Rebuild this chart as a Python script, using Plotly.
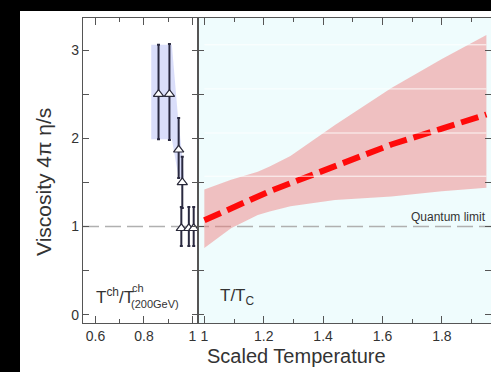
import plotly.graph_objects as go

# ---------------- data ----------------
# left panel: T^ch / T^ch(200GeV) points (triangles with error bars)
pts_x = [0.860, 0.905, 0.943, 0.958, 0.954, 0.985, 1.005]
pts_y = [2.50, 2.50, 1.87, 1.50, 0.98, 0.98, 0.98]
pts_hi = [3.06, 3.07, 2.23, 1.79, 1.22, 1.22, 1.22]
pts_lo = [1.99, 1.98, 1.55, 1.21, 0.78, 0.78, 0.78]

# left panel: blue systematic band
blue_x = [0.830, 0.915, 0.940, 0.958, 0.965]
blue_hi = [3.06, 3.06, 2.25, 1.80, 1.50]
blue_lo = [1.99, 1.99, 1.60, 1.52, 1.50]

# right panel: T/Tc band and central (dashed) curve
red_x = [1.00, 1.09, 1.18, 1.22, 1.29, 1.44, 1.63, 1.80, 1.95]
red_hi = [1.42, 1.53, 1.62, 1.68, 1.80, 2.15, 2.57, 2.90, 3.17]
red_lo = [0.755, 0.98, 1.13, 1.17, 1.23, 1.30, 1.34, 1.40, 1.44]
red_mid = [1.07, 1.21, 1.34, 1.40, 1.49, 1.68, 1.93, 2.11, 2.27]

quantum_limit = 1.0
hatch_lines = [1.57, 2.06, 2.56, 3.06]

x1_ticks = [0.6, 0.8, 1.0]
x1_labels = ["0.6", "0.8", "1"]
x2_ticks = [1.0, 1.2, 1.4, 1.6, 1.8]
x2_labels = ["1", "1.2", "1.4", "1.6", "1.8"]
y_ticks = [0, 1, 2, 3]
y_labels = ["0", "1", "2", "3"]

# ---------------- layout helpers ----------------
W, H = 491, 372
L, R, T, B = 83, 0, 18, 49
PW, PH = W - L - R, H - T - B
FONT = "Liberation Sans, Arial, Helvetica, sans-serif"
TXT = "#333333"
AX = "#555555"


def px(p):
    return (p - L) / PW


def py(p):
    return (H - B - p) / PH


split = px(198.3)

fig = go.Figure()

# blue band (left)
fig.add_trace(go.Scatter(
    x=blue_x + blue_x[::-1], y=blue_hi + blue_lo[::-1],
    fill="toself", fillcolor="rgba(150,160,240,0.35)",
    line=dict(width=0), mode="lines", hoverinfo="skip",
    xaxis="x", yaxis="y", showlegend=False))

# points with error bars (left)
fig.add_trace(go.Scatter(
    x=pts_x, y=pts_y, mode="markers",
    marker=dict(symbol="triangle-up", size=9, color="white",
                line=dict(color="#2a2a3a", width=1.2)),
    error_y=dict(type="data", symmetric=False,
                 array=[h - v for h, v in zip(pts_hi, pts_y)],
                 arrayminus=[v - l for l, v in zip(pts_lo, pts_y)],
                 color="#2a2a40", thickness=2, width=1.5),
    xaxis="x", yaxis="y", showlegend=False))

# red band (right)
fig.add_trace(go.Scatter(
    x=red_x + red_x[::-1], y=red_hi + red_lo[::-1],
    fill="toself", fillcolor="rgba(240,120,120,0.45)",
    line=dict(width=0), mode="lines", hoverinfo="skip",
    xaxis="x2", yaxis="y2", showlegend=False))

# central dashed curve
fig.add_trace(go.Scatter(
    x=red_x, y=red_mid, mode="lines",
    line=dict(color="#ff0a0a", width=6, dash="18px,7px"),
    xaxis="x2", yaxis="y2", showlegend=False))

shapes = [
    # white page area over black background
    dict(type="rect", xref="paper", yref="paper",
         x0=px(20), x1=px(W), y0=py(H), y1=py(11),
         fillcolor="white", line=dict(width=0), layer="below"),
    # light cyan right panel
    dict(type="rect", xref="paper", yref="paper",
         x0=split, x1=1, y0=0, y1=1,
         fillcolor="#effcfd", line=dict(width=0), layer="below"),
    # quantum limit line
    dict(type="line", xref="paper", yref="y",
         x0=0, x1=1, y0=quantum_limit, y1=quantum_limit,
         line=dict(color="#b0b0b0", width=1.5, dash="16px,6px"),
         layer="between"),
]
for hy in hatch_lines:
    shapes.append(dict(type="line", xref="x2", yref="y2",
                       x0=red_x[0], x1=red_x[-1], y0=hy, y1=hy,
                       line=dict(color="rgba(255,255,255,0.85)", width=1),
                       layer="above"))

annotations = [
    dict(text="Viscosity 4π η/s", xref="paper", yref="paper",
         x=px(43), y=py(182), textangle=-90, showarrow=False,
         font=dict(family=FONT, size=21, color=TXT),
         xanchor="center", yanchor="middle"),
    dict(text="Scaled Temperature", xref="paper", yref="paper",
         x=px(296), y=py(356), showarrow=False,
         font=dict(family=FONT, size=20, color=TXT),
         xanchor="center", yanchor="middle"),
    dict(text="T<sup>ch</sup>/T", xref="paper", yref="paper",
         x=px(94), y=py(296), showarrow=False, xanchor="left", yanchor="middle",
         font=dict(family=FONT, size=17, color=TXT)),
    dict(text="ch", xref="paper", yref="paper",
         x=px(130), y=py(288), showarrow=False, xanchor="left", yanchor="middle",
         font=dict(family=FONT, size=11, color=TXT)),
    dict(text="(200GeV)", xref="paper", yref="paper",
         x=px(129), y=py(304), showarrow=False, xanchor="left", yanchor="middle",
         font=dict(family=FONT, size=11, color=TXT)),
    dict(text="T/T<sub>C</sub>", xref="paper", yref="paper",
         x=px(218), y=py(297), showarrow=False, xanchor="left", yanchor="middle",
         font=dict(family=FONT, size=17, color=TXT)),
    dict(text="Quantum limit", xref="x2", yref="y2",
         x=1.955, y=quantum_limit, showarrow=False, xanchor="right", yanchor="bottom",
         yshift=1, font=dict(family=FONT, size=12, color=TXT)),
]

axis_common = dict(showline=True, linecolor=AX, linewidth=1.3, mirror="ticks",
                   ticks="inside", tickcolor=AX, showgrid=False, zeroline=False,
                   tickfont=dict(family=FONT, size=14, color=TXT))

fig.update_layout(
    width=W, height=H,
    margin=dict(l=L, r=R, t=T, b=B, pad=0),
    paper_bgcolor="black",
    plot_bgcolor="rgba(0,0,0,0)",
    showlegend=False,
    shapes=shapes,
    annotations=annotations,
    xaxis=dict(domain=[0, split], range=[0.5485, 1.024],
               tickvals=x1_ticks, ticktext=x1_labels, ticklen=7, anchor="y",
               minor=dict(dtick=0.1, tick0=0.6, ticklen=4, ticks="inside", tickcolor=AX),
               **axis_common),
    xaxis2=dict(domain=[split, 1], range=[0.9797, 1.9655],
                tickvals=x2_ticks, ticktext=x2_labels, ticklen=7, anchor="y2",
                minor=dict(dtick=0.1, tick0=1.0, ticklen=4, ticks="inside", tickcolor=AX),
                **axis_common),
    yaxis=dict(domain=[0, 1], range=[-0.094, 3.364], anchor="x",
               tickvals=y_ticks, ticktext=y_labels, ticklen=6,
               minor=dict(dtick=0.5, tick0=0, ticklen=6, ticks="inside", tickcolor=AX),
               **axis_common),
    yaxis2=dict(domain=[0, 1], range=[-0.094, 3.364], anchor="x2", matches="y",
                tickvals=y_ticks, showticklabels=False, ticklen=6,
                minor=dict(dtick=0.5, tick0=0, ticklen=6, ticks="inside", tickcolor=AX),
                **axis_common),
)

fig.write_html("out.html")
